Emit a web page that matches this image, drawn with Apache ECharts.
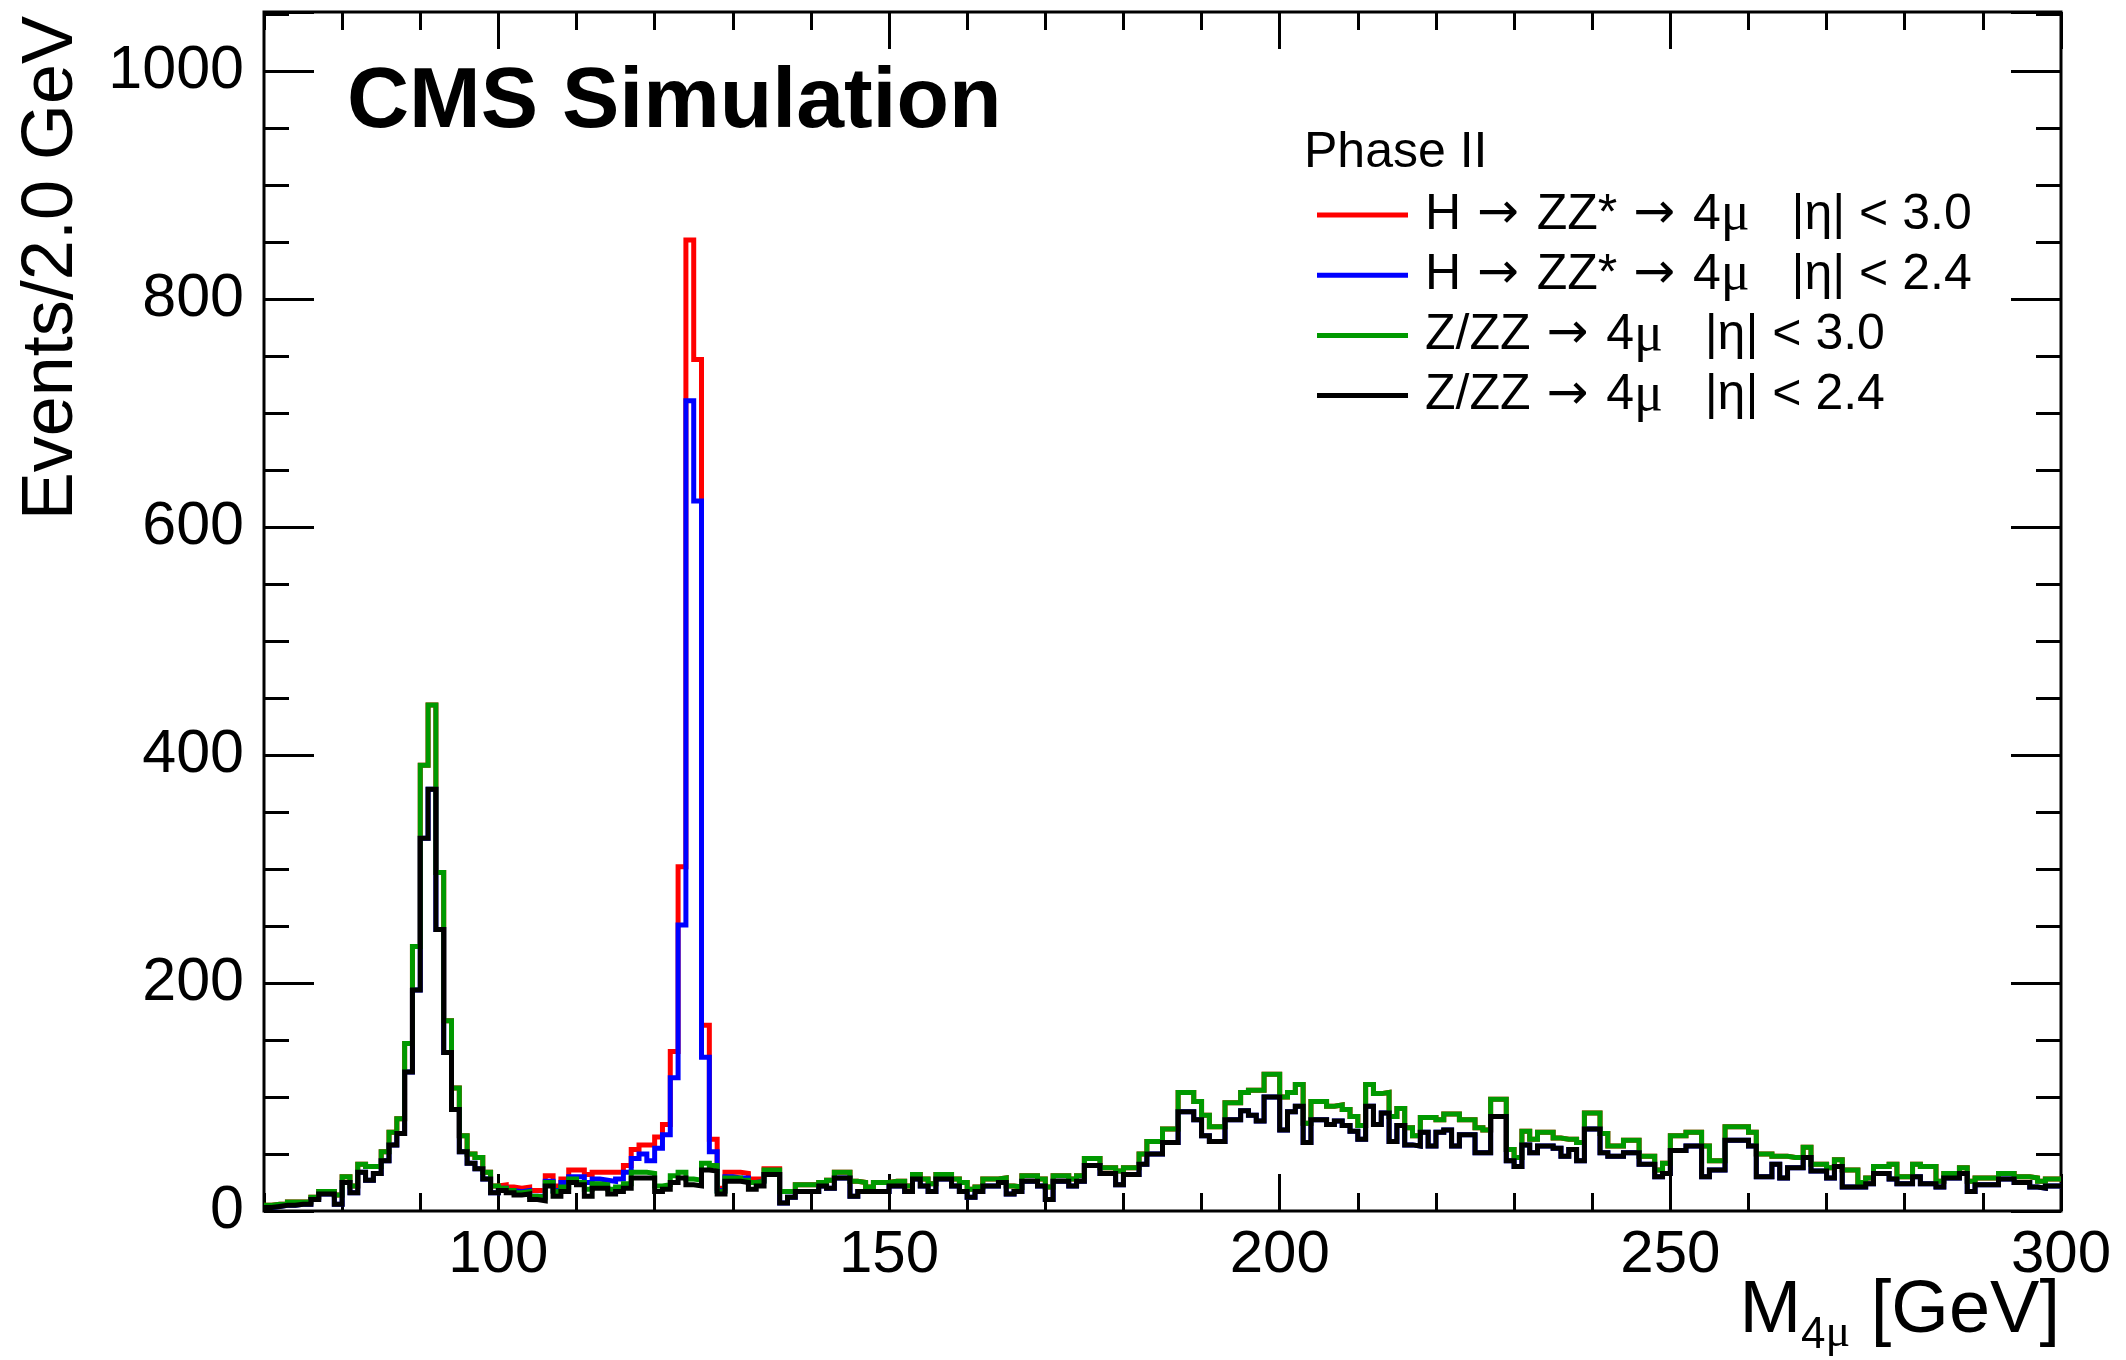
<!DOCTYPE html>
<html>
<head>
<meta charset="utf-8">
<title>CMS Simulation - M4mu</title>
<script src="https://cdn.jsdelivr.net/npm/echarts@6/dist/echarts.min.js"></script>
<style>
  html, body { margin: 0; padding: 0; background: #fff; }
  #chart { width: 2126px; height: 1360px; }
</style>
</head>
<body>
<div id="chart"></div>
<script>
// binning: 1 GeV bins from 70 to 300
var xLow = 70, xHigh = 300, binWidth = 1;
var xTickLabels = [100, 150, 200, 250, 300];
var yTickLabels = [0, 200, 400, 600, 800, 1000];

// Z/ZZ -> 4mu, |eta| < 3.0 (green)
var zz30 = [
  5, 6, 6, 8, 8, 8, 12, 17, 17, 14,
  30, 22, 41, 39, 39, 52, 69, 81, 147, 232,
  391, 444, 297, 167, 108, 66, 50, 47, 34, 22,
  20, 18, 16, 17, 13, 12, 25, 17, 21, 28,
  25, 19, 24, 23, 19, 21, 24, 34, 34, 33,
  22, 23, 31, 34, 28, 27, 42, 40, 17, 29,
  29, 27, 25, 26, 36, 36, 17, 17, 23, 23,
  23, 25, 27, 34, 34, 26, 25, 21, 25, 25,
  26, 26, 22, 32, 28, 24, 32, 32, 28, 25,
  19, 21, 28, 28, 29, 22, 21, 31, 31, 28,
  21, 31, 31, 28, 31, 46, 46, 38, 38, 35,
  38, 38, 50, 61, 61, 72, 72, 104, 104, 96,
  84, 74, 74, 95, 95, 104, 106, 106, 120, 120,
  100, 104, 111, 77, 96, 96, 92, 93, 89, 83,
  75, 111, 103, 104, 83, 90, 73, 66, 82, 82,
  80, 85, 85, 80, 80, 73, 71, 98, 98, 54,
  47, 70, 63, 69, 69, 64, 63, 63, 60, 86,
  86, 68, 57, 57, 62, 62, 48, 48, 36, 42,
  66, 66, 69, 69, 57, 44, 44, 74, 74, 74,
  69, 50, 50, 48, 48, 47, 47, 56, 41, 41,
  38, 45, 36, 36, 25, 29, 39, 39, 41, 30,
  30, 41, 39, 39, 26, 33, 33, 38, 26, 29,
  29, 29, 33, 33, 30, 30, 29, 26, 28, 28
];

// Z/ZZ -> 4mu, |eta| < 2.4 (black)
var zz24 = [
  3, 4, 5, 5, 6, 6, 10, 15, 15, 6,
  25, 16, 34, 27, 33, 44, 58, 68, 122, 194,
  327, 370, 247, 139, 89, 52, 42, 37, 28, 16,
  18, 16, 14, 15, 10, 9, 22, 13, 17, 25,
  23, 13, 20, 20, 15, 17, 20, 29, 29, 29,
  17, 19, 25, 29, 23, 22, 36, 35, 15, 26,
  26, 25, 19, 22, 32, 32, 7, 12, 17, 17,
  17, 22, 20, 29, 29, 13, 17, 17, 17, 17,
  22, 22, 17, 28, 22, 17, 28, 28, 22, 17,
  12, 17, 22, 22, 25, 15, 17, 26, 26, 22,
  10, 26, 26, 22, 26, 40, 40, 33, 33, 23,
  32, 32, 41, 50, 50, 60, 60, 87, 87, 80,
  66, 61, 61, 80, 80, 88, 84, 79, 100, 100,
  71, 87, 92, 60, 80, 80, 76, 79, 75, 70,
  63, 92, 76, 86, 61, 75, 58, 57, 69, 57,
  69, 71, 57, 67, 67, 51, 51, 83, 83, 44,
  39, 58, 51, 57, 57, 55, 48, 54, 44, 72,
  72, 51, 48, 48, 51, 51, 41, 41, 30, 33,
  53, 53, 57, 57, 30, 36, 36, 62, 62, 62,
  57, 30, 30, 41, 29, 38, 38, 47, 35, 35,
  29, 39, 21, 21, 21, 24, 33, 33, 28, 24,
  24, 30, 24, 24, 21, 29, 29, 33, 17, 23,
  23, 23, 28, 28, 25, 25, 21, 20, 22, 22
];

// H -> ZZ* -> 4mu signal on top of the background, |eta| < 3.0 (red)
var higgs30 = [
  0, 0, 0, 0, 0, 0, 0, 0, 0, 0,
  0, 0, 0, 0, 0, 0, 0, 0, 0, 0,
  0, 0, 0, 0, 0, 0, 0, 0, 0, 0,
  3, 3, 4, 4, 5, 6, 6, 5, 7, 8,
  11, 13, 10, 11, 15, 13, 16, 20, 24, 25,
  43, 53, 109, 268, 824, 720, 121, 23, 3, 5,
  5, 6, 3, 2, 1, 1, 0, 0, 0, 0,
  0, 0, 0, 0, 0, 0, 0, 0, 0, 0,
  0, 0, 0, 0, 0, 0, 0, 0, 0, 0,
  0, 0, 0, 0, 0, 0, 0, 0, 0, 0,
  0, 0, 0, 0, 0, 0, 0, 0, 0, 0,
  0, 0, 0, 0, 0, 0, 0, 0, 0, 0,
  0, 0, 0, 0, 0, 0, 0, 0, 0, 0,
  0, 0, 0, 0, 0, 0, 0, 0, 0, 0,
  0, 0, 0, 0, 0, 0, 0, 0, 0, 0,
  0, 0, 0, 0, 0, 0, 0, 0, 0, 0,
  0, 0, 0, 0, 0, 0, 0, 0, 0, 0,
  0, 0, 0, 0, 0, 0, 0, 0, 0, 0,
  0, 0, 0, 0, 0, 0, 0, 0, 0, 0,
  0, 0, 0, 0, 0, 0, 0, 0, 0, 0,
  0, 0, 0, 0, 0, 0, 0, 0, 0, 0,
  0, 0, 0, 0, 0, 0, 0, 0, 0, 0,
  0, 0, 0, 0, 0, 0, 0, 0, 0, 0
];

// H -> ZZ* -> 4mu signal, |eta| < 2.4 (blue)
var higgs24 = [
  0, 0, 0, 0, 0, 0, 0, 0, 0, 0,
  0, 0, 0, 0, 0, 0, 0, 0, 0, 0,
  0, 0, 0, 0, 0, 0, 0, 0, 0, 0,
  2, 2, 3, 3, 3, 4, 4, 5, 8, 5,
  7, 12, 8, 7, 11, 11, 14, 17, 21, 15,
  38, 48, 92, 222, 688, 601, 99, 17, 3, 4,
  3, 4, 6, 4, 0, 0, 0, 0, 0, 0,
  0, 0, 0, 0, 0, 0, 0, 0, 0, 0,
  0, 0, 0, 0, 0, 0, 0, 0, 0, 0,
  0, 0, 0, 0, 0, 0, 0, 0, 0, 0,
  0, 0, 0, 0, 0, 0, 0, 0, 0, 0,
  0, 0, 0, 0, 0, 0, 0, 0, 0, 0,
  0, 0, 0, 0, 0, 0, 0, 0, 0, 0,
  0, 0, 0, 0, 0, 0, 0, 0, 0, 0,
  0, 0, 0, 0, 0, 0, 0, 0, 0, 0,
  0, 0, 0, 0, 0, 0, 0, 0, 0, 0,
  0, 0, 0, 0, 0, 0, 0, 0, 0, 0,
  0, 0, 0, 0, 0, 0, 0, 0, 0, 0,
  0, 0, 0, 0, 0, 0, 0, 0, 0, 0,
  0, 0, 0, 0, 0, 0, 0, 0, 0, 0,
  0, 0, 0, 0, 0, 0, 0, 0, 0, 0,
  0, 0, 0, 0, 0, 0, 0, 0, 0, 0,
  0, 0, 0, 0, 0, 0, 0, 0, 0, 0
];

var names = [
  'H \u2192 ZZ* \u2192 4\u03bc   |\u03b7| < 3.0',
  'H \u2192 ZZ* \u2192 4\u03bc   |\u03b7| < 2.4',
  'Z/ZZ \u2192 4\u03bc   |\u03b7| < 3.0',
  'Z/ZZ \u2192 4\u03bc   |\u03b7| < 2.4'
];

var font = '"Liberation Sans", Arial, Helvetica, sans-serif';
var serif = '"Liberation Serif", "DejaVu Serif", serif';

// signal drawn on top of its background sample
function addHist(a, b) {
  return a.map(function (v, i) { return v + b[i]; });
}

// histogram outline: one point per bin low edge, plus the closing edge
function toSteps(values) {
  var pts = [];
  for (var i = 0; i < values.length; i++) {
    pts.push([xLow + i * binWidth, values[i]]);
  }
  pts.push([xLow + values.length * binWidth, values[values.length - 1]]);
  return pts;
}

function histLine(name, data, color) {
  return {
    name: name,
    type: 'line',
    step: 'end',
    data: toSteps(data),
    showSymbol: false,
    symbol: 'none',
    color: color,
    lineStyle: { color: color, width: 5, join: 'miter' },
    animation: false
  };
}

function xAxisDef(pos, major) {
  var a = {
    type: 'value',
    position: pos,
    min: xLow,
    max: xHigh,
    axisLine: { show: false },
    splitLine: { show: false },
    axisLabel: { show: false },
    axisTick: { show: true, inside: true, length: 18, lineStyle: { color: '#000', width: 3 } }
  };
  if (major) {
    a.axisTick.length = 37;
    a.axisTick.customValues = xTickLabels;
    if (pos === 'bottom') {
      a.axisLabel = {
        show: true, customValues: xTickLabels, color: '#000',
        fontFamily: font, fontSize: 60, margin: 14
      };
    }
  } else {
    a.interval = 10;
  }
  return a;
}

function yAxisDef(pos) {
  return {
    type: 'value',
    position: pos,
    min: 0,
    max: 1052,
    interval: 200,
    axisLine: { show: false },
    splitLine: { show: false },
    axisLabel: pos === 'left' ? {
      show: true, customValues: yTickLabels, color: '#000',
      fontFamily: font, fontSize: 61, margin: 20,
      formatter: function (v) { return String(v); }
    } : { show: false },
    axisTick: { show: true, inside: true, length: 50, lineStyle: { color: '#000', width: 3 } },
    minorTick: { show: true, splitNumber: 4, length: 25, lineStyle: { color: '#000', width: 3 } }
  };
}

// x title pieces laid out right-to-left from the frame edge
var measure = document.createElement('canvas').getContext('2d');
function textWidth(txt, f) {
  measure.font = f;
  return measure.measureText(txt).width;
}
var titleRight = 2060;
var wUnit = textWidth(' [GeV]', '74px ' + font);
var wMu = textWidth('\u03bc', '46px ' + serif);
var wFour = textWidth('4', '44px ' + font);

var chart = echarts.init(document.getElementById('chart'), null, { renderer: 'canvas' });

var option = {
  backgroundColor: '#fff',
  animation: false,
  grid: {
    left: 264, right: 65, top: 12, bottom: 149,
    show: true, borderColor: '#000', borderWidth: 3, backgroundColor: 'transparent'
  },
  legend: {
    data: names,
    orient: 'vertical',
    left: 1312,
    top: 183,
    itemWidth: 91,
    itemHeight: 5,
    itemGap: 6.2,
    icon: 'rect',
    selectedMode: false,
    formatter: function (name) {
      return name.replace(/\u2192/g, '{a|\u2192}').replace(/\u03bc/g, '{g|\u03bc}');
    },
    textStyle: {
      color: '#000', fontFamily: font, fontSize: 50, lineHeight: 50, padding: [0, 0, 0, 12],
      rich: {
        a: { fontFamily: '"DejaVu Sans", sans-serif', fontSize: 50, lineHeight: 50, color: '#000', padding: [0, 4, 0, 2] },
        g: { fontFamily: serif, fontSize: 54, lineHeight: 50, color: '#000' }
      }
    }
  },
  xAxis: [
    xAxisDef('bottom', true),
    xAxisDef('bottom', false),
    xAxisDef('top', true),
    xAxisDef('top', false)
  ],
  yAxis: [yAxisDef('left'), yAxisDef('right')],
  series: [
    histLine(names[0], addHist(zz30, higgs30), '#ff0000'),
    histLine(names[1], addHist(zz24, higgs24), '#0000ff'),
    histLine(names[2], zz30, '#009900'),
    histLine(names[3], zz24, '#000000')
  ],
  graphic: [
    {
      type: 'text', x: 347, y: 103,
      style: { text: 'CMS Simulation', fill: '#000', font: 'bold 86px ' + font, textVerticalAlign: 'middle' }
    },
    {
      type: 'text', x: 1304, y: 153,
      style: { text: 'Phase II', fill: '#000', font: '50px ' + font, textVerticalAlign: 'middle' }
    },
    {
      type: 'text', x: 52, y: 16, rotation: Math.PI / 2,
      style: {
        text: 'Events/2.0 GeV', fill: '#000', font: '72px ' + font,
        textAlign: 'right', textVerticalAlign: 'middle'
      }
    },
    {
      type: 'text', x: titleRight, y: 1312,
      style: { text: ' [GeV]', fill: '#000', font: '74px ' + font, textAlign: 'right', textVerticalAlign: 'middle' }
    },
    {
      type: 'text', x: titleRight - wUnit, y: 1334,
      style: { text: '\u03bc', fill: '#000', font: '46px ' + serif, textAlign: 'right', textVerticalAlign: 'middle' }
    },
    {
      type: 'text', x: titleRight - wUnit - wMu, y: 1336,
      style: { text: '4', fill: '#000', font: '44px ' + font, textAlign: 'right', textVerticalAlign: 'middle' }
    },
    {
      type: 'text', x: titleRight - wUnit - wMu - wFour, y: 1312,
      style: { text: 'M', fill: '#000', font: '74px ' + font, textAlign: 'right', textVerticalAlign: 'middle' }
    }
  ]
};

chart.setOption(option);
</script>
</body>
</html>
